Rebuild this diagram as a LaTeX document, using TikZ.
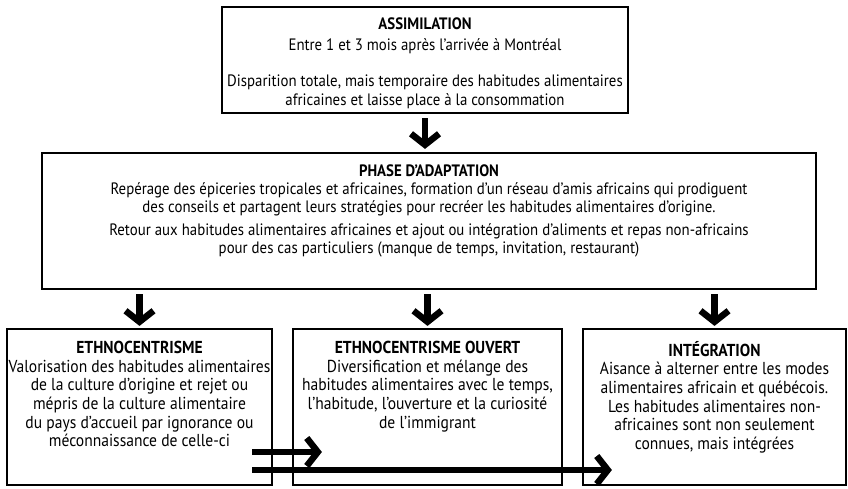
\documentclass[tikz,border=0pt]{standalone}
\usepackage{fontspec}
\setmainfont{PT Sans}[FakeStretch=0.9]
\usetikzlibrary{arrows.meta,positioning,calc}

\begin{document}
\begin{tikzpicture}[
  x=1pt, y=-1pt,
  font=\fontsize{16.5}{18.5}\selectfont,
  frame/.style={rectangle, draw=black, line width=2.2pt, inner sep=0pt},
  boxtext/.style={align=center, inner sep=0pt},
  stagetext/.style={boxtext, font=\fontsize{17.3}{18.7}\selectfont},
  flow/.style={line width=6.5pt, line join=miter, -{Straight Barb[length=11pt,width=28pt]}}
]
\useasboundingbox (0,0) rectangle (848,488);

% frames
\node[frame, minimum width=406pt, minimum height=106pt] (assim) at (425,60) {};
\node[frame, minimum width=774pt, minimum height=136pt] (phase) at (429,221) {};
\node[frame, minimum width=265pt, minimum height=156pt] (ethno) at (139.5,407) {};
\node[frame, minimum width=269pt, minimum height=156pt] (ouvert) at (427.5,407) {};
\node[frame, minimum width=263pt, minimum height=156pt] (integ) at (714.5,407) {};

% texts
\node[boxtext, below=12pt of assim.north] (assimtxt) {\textbf{ASSIMILATION}\\[2.5pt]
Entre 1 et 3 mois après l’arrivée à Montréal\\[17.5pt]
Disparition totale, mais temporaire des habitudes alimentaires\\
africaines et laisse place à la consommation};
\node[boxtext, font=\fontsize{16.5}{17.8}\selectfont, below=13pt of phase.north] (phasetxt) {\textbf{PHASE D’ADAPTATION}\\
Repérage des épiceries tropicales et africaines, formation d’un réseau d’amis africains qui prodiguent\\
des conseils et partagent leurs stratégies pour recréer les habitudes alimentaires d’origine.\\[5pt]
Retour aux habitudes alimentaires africaines et ajout ou intégration d’aliments et repas non-africains\\
pour des cas particuliers (manque de temps, invitation, restaurant)};
\node[stagetext, below=13pt of ethno.north] (ethnotxt) {\textbf{ETHNOCENTRISME}\\
Valorisation des habitudes alimentaires\\
de la culture d’origine et rejet ou\\
mépris de la culture alimentaire\\
du pays d’accueil par ignorance ou\\
méconnaissance de celle-ci};
\node[stagetext, below=13pt of ouvert.north] (ouverttxt) {\textbf{ETHNOCENTRISME OUVERT}\\
Diversification et mélange des\\
habitudes alimentaires avec le temps,\\
l’habitude, l’ouverture et la curiosité\\
de l’immigrant};
\node[stagetext, below=13pt of integ.north] (integtxt) {\textbf{INTÉGRATION}\\
Aisance à alterner entre les modes\\
alimentaires africain et québécois.\\
Les habitudes alimentaires non-\\
africaines sont non seulement\\
connues, mais intégrées};

% arrows
\draw[flow, shorten <=4pt, shorten >=3pt] (assim.south) -- (assim.south |- phase.north);
\foreach \n in {ethno,ouvert,integ}
  \draw[flow, shorten <=4pt, shorten >=2pt] (phase.south -| \n.north) -- (\n.north);

\coordinate (h1) at (252,452);
\coordinate (h2) at (252,470);
\draw[flow] (h1) -- ($(h1 -| ouvert.west)+(30,0)$);
\draw[flow] (h2) -- ($(h2 -| integ.west)+(30,0)$);

\end{tikzpicture}
\end{document}
